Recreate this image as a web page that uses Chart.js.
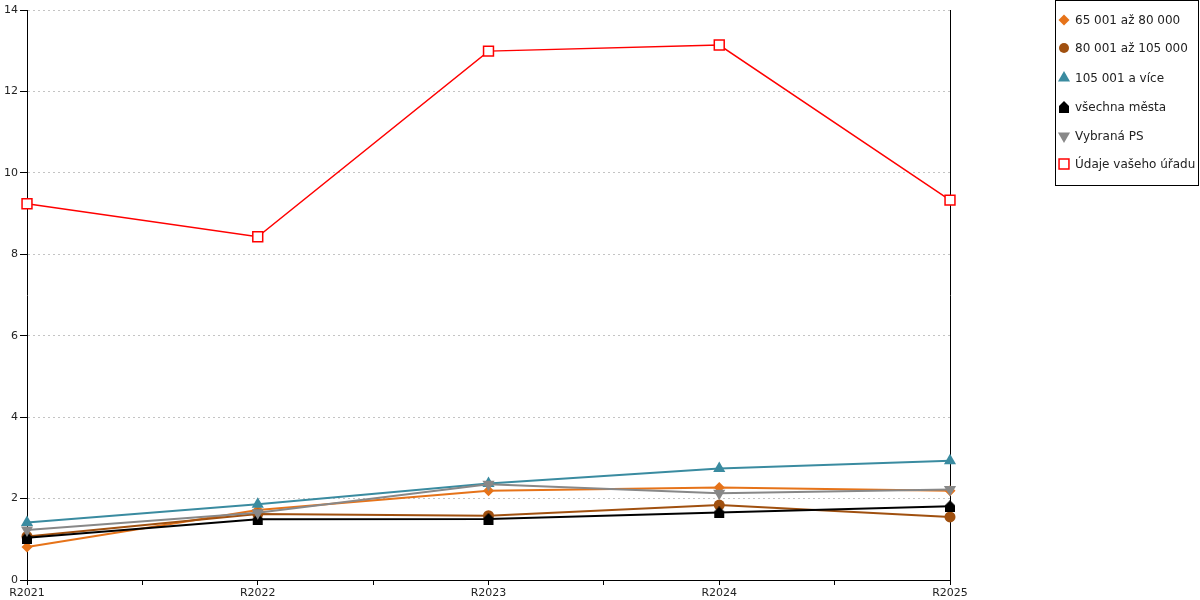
<!DOCTYPE html>
<html>
<head>
<meta charset="utf-8">
<script src="https://cdn.jsdelivr.net/npm/chart.js@4/dist/chart.umd.min.js"></script>
<style>
  html, body { margin: 0; padding: 0; background: #fff; }
  #wrap { position: relative; width: 1200px; height: 600px; }
</style>
</head>
<body>
<div id="wrap"><canvas id="chart"></canvas></div>
<script>
// data
var years = ['R2021', 'R2022', 'R2023', 'R2024', 'R2025'];
var seriesNames = ['65 001 až 80 000', '80 001 až 105 000', '105 001 a více', 'všechna města', 'Vybraná PS', 'Údaje vašeho úřadu'];
var s65 = [0.81, 1.72, 2.19, 2.27, 2.19];
var s80 = [1.07, 1.62, 1.58, 1.84, 1.55];
var s105 = [1.41, 1.86, 2.37, 2.74, 2.93];
var allCities = [1.04, 1.49, 1.50, 1.66, 1.81];
var selectedPS = [1.23, 1.65, 2.35, 2.13, 2.22];
var office = [9.24, 8.43, 12.99, 13.14, 9.33];
var yTicks = [0, 2, 4, 6, 8, 10, 12, 14];

// house-shaped marker for "všechna města"
function houseMarker(col) {
  var c = document.createElement('canvas');
  c.width = 12; c.height = 12;
  var g = c.getContext('2d');
  g.fillStyle = col;
  g.beginPath();
  g.moveTo(1, 12); g.lineTo(1, 5); g.lineTo(6, 0); g.lineTo(11, 5); g.lineTo(11, 12);
  g.closePath();
  g.fill();
  return c;
}
var house = houseMarker('#000');

function pts(arr) {
  return arr.map(function(v, i) { return { x: i, y: v }; });
}

var styles = [
  { color: '#E67319', point: 'rectRot', radius: 5.5, rotation: 0, fill: '#E67319', width: 2 },
  { color: '#A0500F', point: 'circle', radius: 5.5, rotation: 0, fill: '#A0500F', width: 2 },
  { color: '#3A8BA0', point: 'triangle', radius: 7, rotation: 0, fill: '#3A8BA0', width: 2 },
  { color: '#000000', point: house, radius: 6, rotation: 0, fill: '#000000', width: 2 },
  { color: '#888888', point: 'triangle', radius: 7, rotation: 180, fill: '#888888', width: 2 },
  { color: '#FF0000', point: 'rect', radius: 7, rotation: 0, fill: '#FFFFFF', width: 1.5 }
];
var values = [s65, s80, s105, allCities, selectedPS, office];

var datasets = values.map(function(v, i) {
  var st = styles[i];
  return {
    label: seriesNames[i],
    data: pts(v),
    borderColor: st.color,
    backgroundColor: st.color,
    borderWidth: st.width,
    pointStyle: st.point,
    pointRadius: st.radius,
    pointHoverRadius: st.radius,
    pointRotation: st.rotation,
    pointBackgroundColor: st.fill,
    pointBorderColor: st.color,
    pointBorderWidth: i == 5 ? 1.5 : 0,
    tension: 0,
    clip: false,
    order: 5 - i
  };
});

// legend drawn in a box on the right
var boxLegend = {
  id: 'boxLegend',
  afterDraw: function(chart) {
    var ctx = chart.ctx;
    ctx.save();
    ctx.strokeStyle = '#000';
    ctx.lineWidth = 1;
    ctx.strokeRect(1055.5, 0.5, 143, 185);
    ctx.font = '12px "DejaVu Sans"';
    ctx.textBaseline = 'middle';
    var ys = [20, 48, 78, 107, 136, 164];
    var sizes = [5.5, 5, 7, 6, 7, 7];
    for (var i = 0; i < seriesNames.length; i++) {
      var st = styles[i];
      ctx.fillStyle = st.fill;
      ctx.strokeStyle = st.color;
      ctx.lineWidth = i == 5 ? 1.5 : 0;
      Chart.helpers.drawPoint(ctx, {
        pointStyle: st.point,
        radius: sizes[i],
        rotation: st.rotation,
        borderWidth: i == 5 ? 1.5 : 0
      }, 1064, ys[i]);
      ctx.fillStyle = '#222';
      ctx.fillText(seriesNames[i], 1075, ys[i] + 1);
    }
    ctx.restore();
  }
};

var ctx = document.getElementById('chart');
var chart = new Chart(ctx, {
  type: 'line',
  data: { datasets: datasets },
  options: {
    responsive: true,
    maintainAspectRatio: false,
    animation: false,
    layout: { padding: { left: 0, top: 10, right: 250, bottom: 0 } },
    plugins: {
      legend: { display: false },
      tooltip: { enabled: false }
    },
    scales: {
      x: {
        type: 'linear',
        min: 0,
        max: years.length - 1,
        afterBuildTicks: function(scale) {
          var t = [];
          for (var k = 0; k <= (years.length - 1) * 2; k++) t.push({ value: k / 2 });
          scale.ticks = t;
        },
        afterFit: function(scale) { scale.height = 20; },
        ticks: {
          autoSkip: false,
          maxRotation: 0,
          padding: 2,
          color: '#222',
          font: { family: 'DejaVu Sans', size: 11 },
          callback: function(v) { return Number.isInteger(v) ? years[v] : ''; }
        },
        grid: { drawOnChartArea: false, drawTicks: true, tickLength: 5, color: '#000', tickColor: '#000' },
        border: { display: true, color: '#000', width: 1 }
      },
      y: {
        min: 0,
        max: 14,
        afterBuildTicks: function(scale) {
          scale.ticks = yTicks.map(function(v) { return { value: v }; });
        },
        afterFit: function(scale) { scale.width = 27; },
        ticks: {
          padding: 2,
          color: '#222',
          font: { family: 'DejaVu Sans', size: 11 }
        },
        grid: { color: '#c4c4c4', tickColor: '#000', tickLength: 7, lineWidth: 1 },
        border: { display: true, color: '#000', width: 1, dash: [2, 3] }
      },
      y2: {
        position: 'right',
        min: 0,
        max: 14,
        afterFit: function(scale) { scale.width = 0; },
        ticks: { display: false },
        grid: { display: false },
        border: { display: true, color: '#000', width: 1 }
      }
    }
  },
  plugins: [boxLegend]
});
</script>
</body>
</html>
